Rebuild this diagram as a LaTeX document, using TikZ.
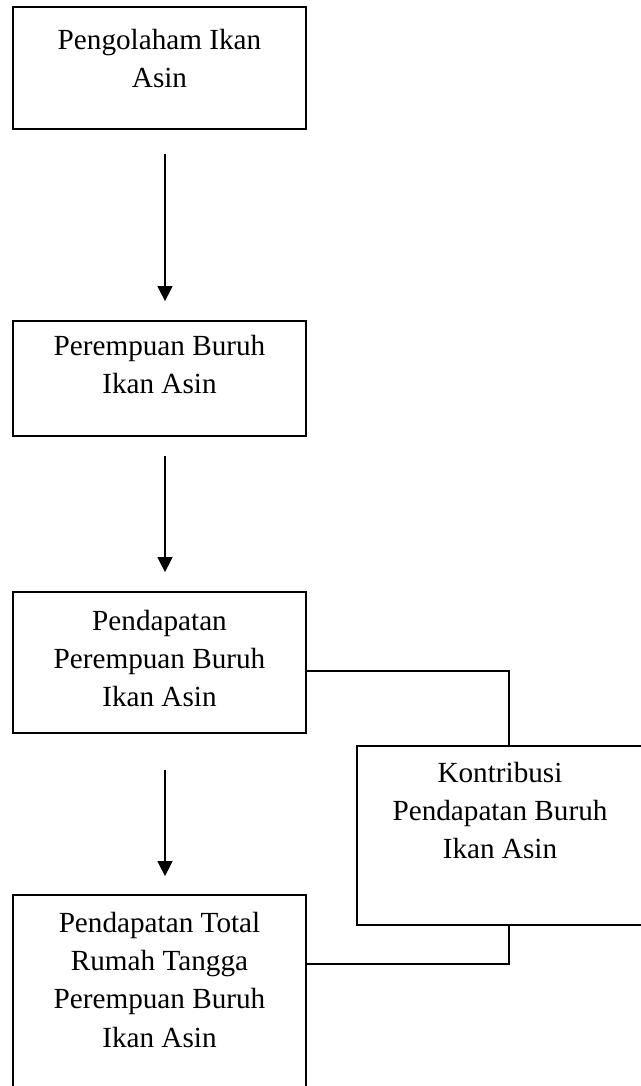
\documentclass[tikz,border=0pt]{standalone}
\usepackage{fontspec}
\setmainfont{Liberation Serif}
\usetikzlibrary{arrows.meta,positioning}

\begin{document}
\begin{tikzpicture}[
	x=0.5pt, y=-0.5pt,
	box/.style={draw, line width=0.9pt, inner sep=0pt},
	boxtext/.style={align=center, inner sep=0pt, font=\fontsize{14.6}{19.2}\selectfont},
	flow/.style={line width=0.75pt, -{Triangle[length=7.5pt,width=7.5pt]}},
	every path/.style={line width=0.75pt},
]
	\useasboundingbox (0,0) rectangle (641,1086);

	\node [box, minimum width=146.5pt, minimum height=61pt] (olah) at (159.5,68) {};
	\node [box, minimum width=146.5pt, minimum height=57.5pt] (buruh) at (159.5,378.5) {};
	\node [box, minimum width=146.5pt, minimum height=70.5pt] (pendapatan) at (159.5,662.5) {};
	\node [box, minimum width=143pt, minimum height=89.5pt] (kontribusi) at (500,835.5) {};
	\node [box, minimum width=146.5pt, minimum height=96.5pt] (total) at (159.5,991.5) {};

	\node [boxtext, below=11pt of olah.north] {Pengolaham Ikan\\Asin};
	\node [boxtext, below=7pt of buruh.north] {Perempuan Buruh\\Ikan Asin};
	\node [boxtext, below=9pt of pendapatan.north] {Pendapatan\\Perempuan Buruh\\Ikan Asin};
	\node [boxtext, below=8pt of kontribusi.north] {Kontribusi\\Pendapatan Buruh\\Ikan Asin};
	\node [boxtext, below=8.5pt of total.north] {Pendapatan Total\\Rumah Tangga\\Perempuan Buruh\\Ikan Asin};

	\draw [flow, shorten <=12pt, shorten >=9.5pt] ([xshift=2.75pt]olah.south) -- ([xshift=2.75pt]buruh.north);
	\draw [flow, shorten <=9.5pt, shorten >=9.5pt] ([xshift=2.75pt]buruh.south) -- ([xshift=2.75pt]pendapatan.north);
	\draw [flow, shorten <=18pt, shorten >=9pt] ([xshift=2.75pt]pendapatan.south) -- ([xshift=2.75pt]total.north);

	\draw ([yshift=-4.25pt]pendapatan.east) -| ([xshift=4.5pt]kontribusi.north);
	\draw ([xshift=4.5pt]kontribusi.south) |- ([yshift=13.75pt]total.east);
\end{tikzpicture}
\end{document}
